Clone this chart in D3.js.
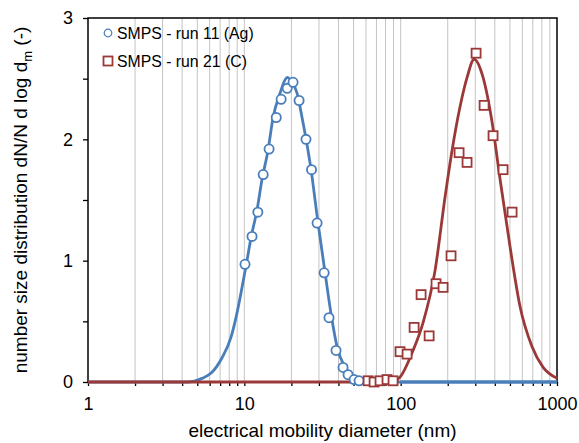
<!DOCTYPE html>
<html>
<head>
<meta charset="utf-8">
<script src="https://cdn.jsdelivr.net/npm/d3@7"></script>
<style>
body { margin: 0; background: #fff; }
svg { font-family: "Liberation Sans", Arial, sans-serif; }
</style>
</head>
<body>
<div id="canvas"></div>
<script>
// measured points (diameter in nm, dN/N dlog dm)
const agDiam  = [10.1, 11.2, 12.2, 13.2, 14.4, 16.0, 17.2, 18.8, 20.5, 22.4, 24.8, 26.9, 29.2, 32.4, 34.8, 38.6, 42.8, 46.1, 50.4, 54.2];
const agValue = [0.97, 1.20, 1.40, 1.71, 1.92, 2.18, 2.33, 2.42, 2.47, 2.32, 2.00, 1.75, 1.31, 0.90, 0.53, 0.26, 0.12, 0.06, 0.02, 0.01];

const cDiam  = [61.9, 67.6, 73.8, 81.8, 89.4, 99.1, 109.9, 121.9, 135.1, 152.1, 168.4, 186.8, 210.0, 236.4, 265.9, 303.7, 341.7, 389.9, 451.9, 516.0];
const cValue = [0.01, 0.00, 0.01, 0.02, 0.01, 0.25, 0.23, 0.45, 0.72, 0.38, 0.81, 0.78, 1.04, 1.89, 1.81, 2.71, 2.28, 2.03, 1.75, 1.40];

// fitted curves
const agFitDiam  = [1, 4.30, 5.36, 6.21, 7.20, 8.22, 8.98, 9.67, 10.33, 11.04, 12.06, 12.98, 14.18, 15.27, 16.92, 18.21, 18.80, 20.19, 21.74, 23.40, 24.83, 26.71, 29.61, 32.84, 36.24, 39.19, 44.10, 49.61, 54.98, 100, 1000];
const agFitValue = [0, 0, 0.03, 0.08, 0.20, 0.37, 0.57, 0.78, 0.98, 1.19, 1.42, 1.67, 1.91, 2.18, 2.38, 2.49, 2.51, 2.47, 2.38, 2.18, 2.00, 1.75, 1.31, 0.90, 0.525, 0.29, 0.12, 0.04, 0, 0, 0];

const cFitDiam  = [1, 85.5, 92.1, 99.1, 120.0, 139.1, 166.0, 192.3, 213.3, 239.9, 266.0, 294.9, 336.6, 384.4, 432.5, 501.4, 580.6, 692.9, 815.5, 1000];
const cFitValue = [0, 0, 0.01, 0.04, 0.26, 0.49, 0.92, 1.525, 1.91, 2.27, 2.51, 2.66, 2.51, 2.14, 1.67, 1.11, 0.62, 0.29, 0.12, 0.03];

const seriesNames = ["SMPS - run 11 (Ag)", "SMPS - run 21 (C)"];
const xMajor = [1, 10, 100, 1000];
const yMajor = [0, 1, 2, 3];
const yMinor = [0.5, 1.5, 2.5];

const blue = "#4a7ebb", red = "#9b3838";

const margin = {top: 18, right: 22, bottom: 61, left: 88},
    W = 579, H = 443,
    width = W - margin.left - margin.right,
    height = H - margin.top - margin.bottom;

const svg = d3.select("#canvas").append("svg")
    .attr("width", W)
    .attr("height", H);
const g = svg.append("g")
    .attr("transform", "translate(" + margin.left + "," + margin.top + ")");

const x = d3.scaleLog().domain([1, 1000]).range([0, width]);
const y = d3.scaleLinear().domain([0, 3]).range([height, 0]);

// vertical gridlines
const allTicks = x.ticks();
g.selectAll(".grid")
    .data(allTicks.filter(d => d > 1 && d < 1000))
    .join("line")
    .attr("x1", d => x(d)).attr("x2", d => x(d))
    .attr("y1", 0).attr("y2", height)
    .attr("stroke", "#c4c4c4")
    .attr("stroke-width", 1);

// x ticks + labels
g.append("g")
    .attr("transform", "translate(0," + height + ")")
    .call(d3.axisBottom(x).tickValues(allTicks).tickSize(4).tickFormat(d => xMajor.includes(d) ? d : ""))
    .call(a => a.select(".domain").remove())
    .call(a => a.selectAll(".tick line").attr("stroke", "#000").attr("stroke-width", 1.3))
    .call(a => a.selectAll("text").attr("font-size", 18).attr("font-family", "Liberation Sans, Arial, sans-serif").attr("fill", "#000").attr("dy", "1.15em"));

// y ticks + labels
g.append("g")
    .call(d3.axisLeft(y).tickValues(yMajor.concat(yMinor)).tickSize(5).tickFormat(d => yMajor.includes(d) ? d : ""))
    .call(a => a.select(".domain").remove())
    .call(a => a.selectAll(".tick line").attr("stroke", "#000").attr("stroke-width", 1.3))
    .call(a => a.selectAll("text").attr("font-size", 18).attr("font-family", "Liberation Sans, Arial, sans-serif").attr("fill", "#000").attr("x", -15));

// frame
g.append("rect")
    .attr("x", 0).attr("y", 0)
    .attr("width", width).attr("height", height)
    .attr("fill", "none")
    .attr("stroke", "#000")
    .attr("stroke-width", 1.5);

const line = d3.line()
    .curve(d3.curveMonotoneX)
    .x(d => x(d[0]))
    .y(d => y(d[1]));

const agFit = agFitDiam.map((d, i) => [d, agFitValue[i]]);
const cFit = cFitDiam.map((d, i) => [d, cFitValue[i]]);

g.append("path").datum(agFit)
    .attr("fill", "none").attr("stroke", blue).attr("stroke-width", 2.8)
    .attr("d", line);
g.append("path").datum(cFit)
    .attr("fill", "none").attr("stroke", red).attr("stroke-width", 2.8)
    .attr("d", line);
// blue zero line drawn over red on the right side
g.append("path").datum(agFit.filter(d => d[0] >= 100))
    .attr("fill", "none").attr("stroke", blue).attr("stroke-width", 2.8)
    .attr("d", line);

// points
g.selectAll(".ag")
    .data(agDiam)
    .join("circle")
    .attr("cx", d => x(d))
    .attr("cy", (d, i) => y(agValue[i]))
    .attr("r", 4.6)
    .attr("fill", "#fff")
    .attr("stroke", blue)
    .attr("stroke-width", 1.8);

g.selectAll(".c")
    .data(cDiam)
    .join("rect")
    .attr("x", d => x(d) - 4.5)
    .attr("y", (d, i) => y(cValue[i]) - 4.5)
    .attr("width", 9).attr("height", 9)
    .attr("fill", "#fff")
    .attr("stroke", red)
    .attr("stroke-width", 1.8);

// legend
const legend = svg.append("g").attr("transform", "translate(108,33)");
legend.append("circle")
    .attr("cx", 0).attr("cy", 0).attr("r", 3.8)
    .attr("fill", "#fff").attr("stroke", blue).attr("stroke-width", 1.2);
legend.append("rect")
    .attr("x", -4.5).attr("y", 23.5).attr("width", 9).attr("height", 9)
    .attr("fill", "#fff").attr("stroke", red).attr("stroke-width", 1.8);
legend.selectAll("text")
    .data(seriesNames)
    .join("text")
    .attr("x", 9)
    .attr("y", (d, i) => i * 28)
    .attr("dy", "0.36em")
    .attr("font-size", 15.8)
    .text(d => d);

// axis titles
svg.append("text")
    .attr("x", margin.left + width / 2)
    .attr("y", 437)
    .attr("text-anchor", "middle")
    .attr("font-size", 19)
    .text("electrical mobility diameter (nm)");

const yTitle = svg.append("text")
    .attr("transform", "translate(27," + (margin.top + height / 2) + ") rotate(-90)")
    .attr("text-anchor", "middle")
    .attr("font-size", 19);
yTitle.append("tspan").text("number size distribution dN/N d log d");
yTitle.append("tspan").attr("font-size", 13).attr("dy", 5).text("m");
yTitle.append("tspan").attr("dy", -5).text(" (-)");
</script>
</body>
</html>
